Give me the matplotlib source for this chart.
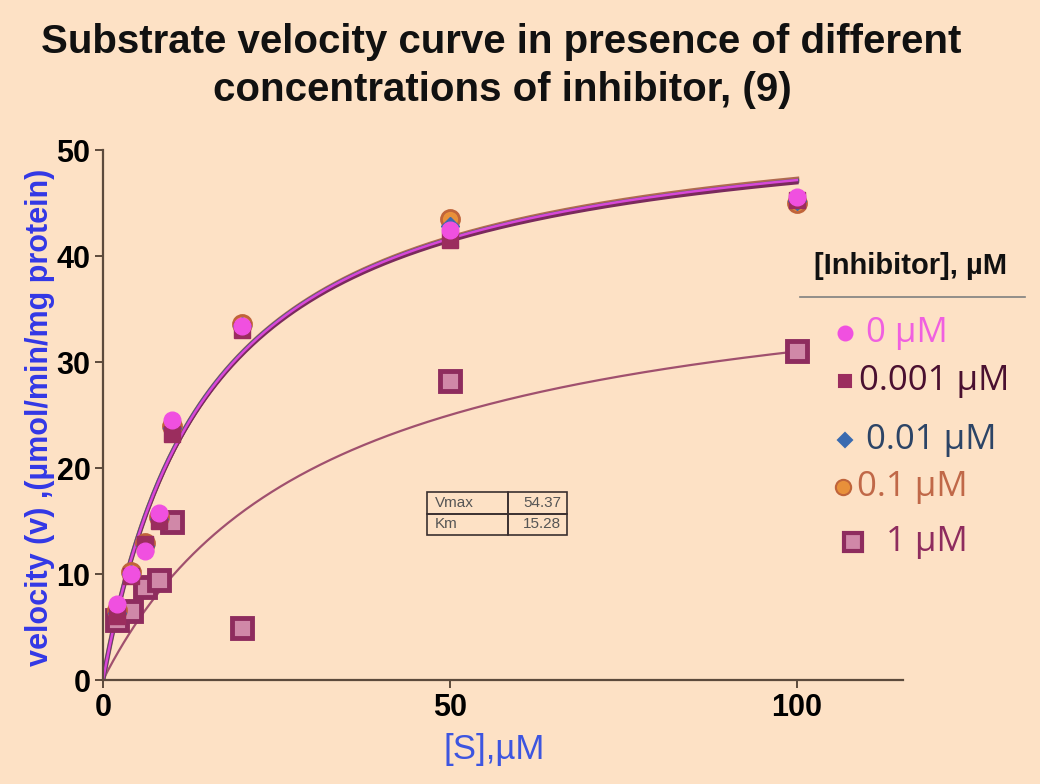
import numpy as np
import matplotlib
matplotlib.use("Agg")
import matplotlib.pyplot as plt
from matplotlib.lines import Line2D

plt.rcParams['font.family'] = ['Liberation Sans', 'DejaVu Sans']

# Substrate concentrations and measured velocities
substrate = [2, 4, 6, 8, 10, 20, 50, 100]
v_0 = [7.2, 10.0, 12.2, 15.8, 24.5, 33.4, 42.5, 45.6]
v_0001 = [6.0, 9.8, 12.8, 15.0, 23.2, 33.0, 41.5, 45.3]
v_001 = [6.3, 10.0, 12.6, 15.2, 23.8, 33.4, 42.8, 45.2]
v_01 = [6.6, 10.2, 12.9, 15.4, 24.0, 33.6, 43.5, 45.0]
v_1 = [5.7, 6.5, 8.8, 9.4, 14.9, 4.9, 28.2, 31.0]

# Michaelis-Menten fit parameters (Vmax, Km) per inhibitor level
fit_0 = (54.37, 15.28)
fit_0001 = (54.10, 15.30)
fit_001 = (54.25, 15.22)
fit_01 = (54.50, 15.35)
fit_1 = (40.8, 31.6)

series_labels = ["0 \u00b5M", "0.001 \u00b5M", "0.01 \u00b5M", "0.1 \u00b5M", "1 \u00b5M"]

bg = '#fde1c5'
fig = plt.figure(figsize=(10.4, 7.84), dpi=100, facecolor=bg)
ax = fig.add_axes([103/1040, 1-680/784, 800/1040, 530/784], facecolor=bg)


def mm(s, vmax, km):
    return vmax * s / (km + s)


s_fit = np.linspace(0, 100, 400)

# fitted curves
ax.plot(s_fit, mm(s_fit, *fit_1), color='#a0506e', lw=1.6, zorder=2)
ax.plot(s_fit, mm(s_fit, *fit_01), color='#b06a50', lw=3.6, zorder=2)
ax.plot(s_fit, mm(s_fit, *fit_001), color='#4a5a80', lw=3.2, zorder=2)
ax.plot(s_fit, mm(s_fit, *fit_0001), color='#7a2a5c', lw=2.6, zorder=2)
ax.plot(s_fit, mm(s_fit, *fit_0), color='#d848d8', lw=1.8, zorder=2)

# data points
ax.plot(substrate, v_1, ls='none', marker='s', ms=14, mfc='#d088a8', mec='#8e2c5e', mew=3.5, zorder=3)
ax.plot(substrate, v_01, ls='none', marker='o', ms=13, mfc='#e8903a', mec='#c0643a', mew=2, zorder=4)
ax.plot(substrate, v_001, ls='none', marker='D', ms=9, mfc='#3a6ab0', mec='#3a6ab0', zorder=5)
ax.plot(substrate, v_0001, ls='none', marker='s', ms=11, mfc='#9b2d5e', mec='#9b2d5e', zorder=6)
ax.plot(substrate, v_0, ls='none', marker='o', ms=12, mfc='#f050e0', mec='#f050e0', zorder=7)

ax.set_xlim(0, 115.3)
ax.set_ylim(0, 50)
ax.set_xticks([0, 50, 100])
ax.set_yticks([0, 10, 20, 30, 40, 50])
for side in ('top', 'right'):
    ax.spines[side].set_visible(False)
for side in ('left', 'bottom'):
    ax.spines[side].set_color('#5c4a3c')
    ax.spines[side].set_linewidth(1.6)
ax.tick_params(axis='both', colors='#5c4a3c', length=6, width=1.4, labelsize=22,
               labelcolor='black', pad=3)
for lab in ax.get_xticklabels() + ax.get_yticklabels():
    lab.set_fontweight('bold')

# parameter table
tbl = ax.table(cellText=[["Vmax", "54.37"], ["Km", "15.28"]],
               colWidths=[0.58, 0.42], cellLoc='left',
               bbox=[0.405, 0.2736, 0.175, 0.081], zorder=8)
tbl.auto_set_font_size(False)
for (r, c), cell in tbl.get_celld().items():
    cell.set_facecolor('none')
    cell.set_edgecolor('#3a3030')
    cell.set_linewidth(1.2)
    cell.get_text().set_fontsize(11)
    cell.get_text().set_color('#555555')
    if c == 1:
        cell.get_text().set_horizontalalignment('right')
        cell._loc = 'right'

# titles and axis labels
fig.text(501/1040, 1-42/784, "Substrate velocity curve in presence of different",
         ha='center', va='center', fontsize=29, fontweight='bold', color='#111111')
fig.text(502/1040, 1-90/784, "concentrations of inhibitor, (9)",
         ha='center', va='center', fontsize=29, fontweight='bold', color='#111111')
fig.text(40/1040, 1-417/784, "velocity (v) ,(\u00b5mol/min/mg protein)", rotation=90,
         ha='center', va='center', fontsize=22, fontweight='bold', color='#3338e6')
fig.text(494/1040, 1-750/784, "[S],\u00b5M", ha='center', va='center',
         fontsize=25, color='#3d55e0')

# legend
fig.text(911/1040, 1-266/784, "[Inhibitor], \u00b5M", ha='center', va='center',
         fontsize=21, fontweight='bold', color='#111111')
fig.add_artist(Line2D([800/1040, 1025/1040], [1-297/784, 1-297/784],
                      color='#808080', lw=1.2, transform=fig.transFigure))

legend_entries = [
    # (marker x, y, text x, marker, size, face, edge, text colour)
    (845, 333, 866, 'o', 10, '#f050e0', '#f050e0', '#f060e0'),
    (845, 381, 859, 's', 9, '#9b2d5e', '#9b2d5e', '#4a1030'),
    (845, 440, 866, 'D', 7, '#3a6ab0', '#3a6ab0', '#2c4466'),
    (843, 487, 857, 'o', 11, '#e8903a', '#c0643a', '#c06848'),
    (853, 542, 886, 's', 13, '#d088a8', '#8e2c5e', '#8e2c5e'),
]
for (mx, my, tx, mk, msz, fc, ec, tc), label in zip(legend_entries, series_labels):
    fig.add_artist(Line2D([mx/1040], [1-my/784], marker=mk, ms=msz, mfc=fc, mec=ec,
                          mew=3 if mk == 's' and msz > 10 else 1.5, ls='none',
                          transform=fig.transFigure))
    fig.text(tx/1040, 1-my/784, label, ha='left', va='center', fontsize=25, color=tc,
             family=['Open Sans', 'DejaVu Sans'])

fig.savefig('out.png', dpi=100, facecolor=bg)
